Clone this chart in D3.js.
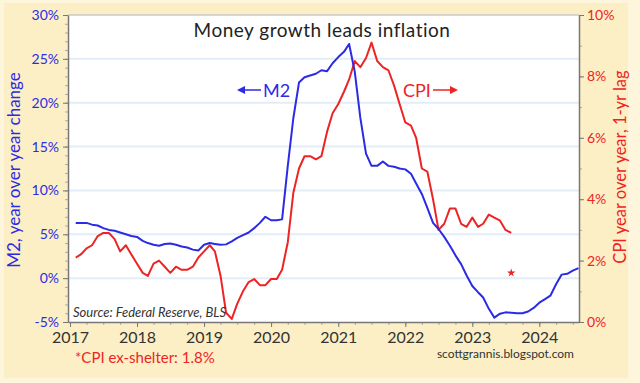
<!DOCTYPE html>
<html>
<head>
<meta charset="utf-8">
<script src="https://cdn.jsdelivr.net/npm/d3@7"></script>
<style>
  html, body { margin: 0; padding: 0; background: #fdf6dc; }
  svg { display: block; font-family: Lato, "DejaVu Sans", sans-serif; }
</style>
</head>
<body>
<svg id="chart" width="640" height="383"></svg>
<script>
// ---------- DATA ----------
// M2 year-over-year % change, monthly, Jan 2017 .. Jul 2024
const m2Start = [2017, 0];
const m2Values = [
  6.3, 6.3, 6.3, 6.1, 6.0, 5.7, 5.5, 5.4, 5.2, 5.0, 4.8, 4.7,
  4.25, 4.0, 3.8, 3.7, 3.9, 3.95, 3.8, 3.6, 3.5, 3.25, 3.15, 3.8,
  4.0, 3.9, 3.8, 3.85, 4.2, 4.6, 4.9, 5.2, 5.7, 6.3, 7.0, 6.6,
  6.6, 6.7, 12.8, 18.2, 22.3, 22.9, 23.1, 23.3, 23.7, 23.6, 24.5, 25.2,
  25.8, 26.7, 23.5, 18.3, 14.2, 12.8, 12.8, 13.3, 12.8, 12.7, 12.5, 12.4,
  11.9, 10.8, 9.6, 8.0, 6.3, 5.6, 4.7, 3.7, 2.6, 1.6, 0.3, -0.9,
  -1.6, -2.2, -3.5, -4.5, -4.05, -3.9, -3.95, -4.0, -4.0, -3.8, -3.4, -2.8,
  -2.4, -2.0, -0.7, 0.4, 0.5, 0.85, 1.15
];
// CPI year-over-year %, lagged one year (plotted Jan 2017 .. Jul 2023)
const cpiStart = [2017, 0];
const cpiLagValues = [
  2.1, 2.2, 2.4, 2.5, 2.8, 2.9, 2.9, 2.7, 2.3, 2.5, 2.2, 1.9,
  1.6, 1.5, 1.9, 2.0, 1.8, 1.6, 1.8, 1.7, 1.7, 1.8, 2.1, 2.3,
  2.5, 2.3, 1.5, 0.3, 0.1, 0.6, 1.0, 1.3, 1.4, 1.2, 1.2, 1.4,
  1.4, 1.7, 2.6, 4.2, 5.0, 5.4, 5.4, 5.3, 5.4, 6.2, 6.8, 7.1,
  7.5, 7.9, 8.5, 8.3, 8.6, 9.1, 8.5, 8.3, 8.2, 7.7, 7.1, 6.5,
  6.4, 6.0, 5.0, 4.9, 4.0, 3.0, 3.2, 3.7, 3.7, 3.2, 3.1, 3.4,
  3.1, 3.2, 3.5, 3.4, 3.3, 3.0, 2.9
];
// CPI ex-shelter marker (plotted at last CPI month)
const starMonth = [2023, 6];
const starValue = 1.6;

const leftTicks = [-5, 0, 5, 10, 15, 20, 25, 30];
const rightTicks = [0, 2, 4, 6, 8, 10];
const xDomain = [new Date(2016, 11, 21), new Date(2024, 7, 4)];

const titleText = "Money growth leads inflation";
const leftTitle = "M2, year over year change";
const rightTitle = "CPI year over year, 1-yr lag";
const m2Label = "M2";
const cpiLabel = "CPI";
const sourceText = "Source: Federal Reserve, BLS";
const footText = "*CPI ex-shelter: 1.8%";
const siteText = "scottgrannis.blogspot.com";

// ---------- LAYOUT ----------
const W = 640, H = 383;
const L = 68, R = 579, T = 15, B = 322;
const BLUE = "#2b2be6", RED = "#ee2424", GRAY = "#777";
const svg = d3.select("#chart");

// month-end plotting date
const monthDate = (start, i) => new Date(start[0], start[1] + i + 1, 1);

const m2Data = m2Values.map((v, i) => ({ date: monthDate(m2Start, i), v }));
const cpiData = cpiLagValues.map((v, i) => ({ date: monthDate(cpiStart, i), v }));

const x = d3.scaleTime().domain(xDomain).range([L, R]);
const yL = d3.scaleLinear().domain([-5, 30]).range([B, T]);
const yR = d3.scaleLinear().domain([0, 10]).range([B, T]);

// background
svg.append("rect").attr("x", 0).attr("y", 0).attr("width", W).attr("height", H).attr("fill", "#fdf6dc");
svg.append("rect").attr("x", 4).attr("y", 3).attr("width", 624).attr("height", 375).attr("fill", "#fcefc6");
svg.append("rect").attr("x", L).attr("y", T).attr("width", R - L).attr("height", B - T).attr("fill", "#ffffff");

// gridlines
svg.append("g").selectAll("line")
  .data(leftTicks.filter(d => d > -5 && d < 30))
  .join("line")
  .attr("x1", L).attr("x2", R)
  .attr("y1", d => yL(d)).attr("y2", d => yL(d))
  .attr("stroke", "#e2edf8").attr("stroke-width", 2);

// top border
svg.append("line").attr("x1", L).attr("x2", R).attr("y1", T).attr("y2", T)
  .attr("stroke", "#c8c8c8").attr("stroke-width", 1.5);

// ---------- AXES ----------
function styleAxis(g, color, size) {
  g.select(".domain").attr("stroke", GRAY).attr("stroke-width", 1.5);
  g.selectAll(".tick line").attr("stroke", GRAY);
  g.selectAll(".tick text").attr("fill", color).style("font-size", size + "px")
    .style("font-family", "Lato, sans-serif");
}

// left minor
svg.append("g").attr("transform", `translate(${L},0)`)
  .call(d3.axisLeft(yL).tickValues(d3.range(-5, 31, 1)).tickSize(3).tickFormat(""))
  .call(g => { g.select(".domain").remove(); g.selectAll(".tick line").attr("stroke", "#aaa"); });
// left major
svg.append("g").attr("transform", `translate(${L},0)`)
  .call(d3.axisLeft(yL).tickValues(leftTicks).tickSize(5).tickSizeOuter(0).tickPadding(4)
    .tickFormat(d => d + "%"))
  .call(g => styleAxis(g, BLUE, 14));

// right minor
svg.append("g").attr("transform", `translate(${R},0)`)
  .call(d3.axisRight(yR).tickValues(d3.range(0, 11, 1)).tickSize(3).tickFormat(""))
  .call(g => { g.select(".domain").remove(); g.selectAll(".tick line").attr("stroke", "#aaa"); });
// right major
svg.append("g").attr("transform", `translate(${R},0)`)
  .call(d3.axisRight(yR).tickValues(rightTicks).tickSize(5).tickSizeOuter(0).tickPadding(3)
    .tickFormat(d => d + "%"))
  .call(g => styleAxis(g, RED, 14));

// bottom minor (quarters)
svg.append("g").attr("transform", `translate(0,${B})`)
  .call(d3.axisBottom(x).ticks(d3.timeMonth.every(3)).tickSize(3).tickFormat(""))
  .call(g => { g.select(".domain").remove(); g.selectAll(".tick line").attr("stroke", "#aaa"); });
// bottom major
svg.append("g").attr("transform", `translate(0,${B})`)
  .call(d3.axisBottom(x).ticks(d3.timeYear.every(1)).tickSize(5).tickSizeOuter(0).tickPadding(5)
    .tickFormat(d3.timeFormat("%Y")))
  .call(g => styleAxis(g, "#333", 16));

// ---------- LINES ----------
const lineL = d3.line().x(d => x(d.date)).y(d => yL(d.v));
const lineR = d3.line().x(d => x(d.date)).y(d => yR(d.v));

svg.append("path").datum(cpiData).attr("d", lineR)
  .attr("fill", "none").attr("stroke", RED).attr("stroke-width", 2).attr("stroke-linejoin", "round");
svg.append("path").datum(m2Data).attr("d", lineL)
  .attr("fill", "none").attr("stroke", BLUE).attr("stroke-width", 2).attr("stroke-linejoin", "round");

// star marker
svg.append("path")
  .attr("d", d3.symbol(d3.symbolStar, 22)())
  .attr("transform", `translate(${x(monthDate(starMonth, 0))},${yR(starValue)})`)
  .attr("fill", RED);

// ---------- TEXT ----------
svg.append("text").attr("x", 322).attr("y", 37).attr("text-anchor", "middle")
  .style("font-size", "19px").style("letter-spacing", "0.5px").attr("fill", "#222").text(titleText);

// M2 arrow label
svg.append("line").attr("x1", 242).attr("x2", 261).attr("y1", 90).attr("y2", 90)
  .attr("stroke", BLUE).attr("stroke-width", 1.5);
svg.append("path").attr("d", "M237,90 L245,86 L245,94 Z").attr("fill", BLUE);
svg.append("text").attr("x", 263).attr("y", 96.5).style("font-size", "18px")
  .attr("fill", BLUE).text(m2Label);

// CPI arrow label
svg.append("text").attr("x", 403).attr("y", 96.5).style("font-size", "18px")
  .attr("fill", RED).text(cpiLabel);
svg.append("line").attr("x1", 433).attr("x2", 452).attr("y1", 90).attr("y2", 90)
  .attr("stroke", RED).attr("stroke-width", 1.5);
svg.append("path").attr("d", "M458,90 L450,86 L450,94 Z").attr("fill", RED);

// axis titles
svg.append("text").attr("transform", "translate(20,170) rotate(-90)")
  .attr("text-anchor", "middle").style("font-size", "17px").attr("fill", BLUE).text(leftTitle);
svg.append("text").attr("transform", "translate(626,167) rotate(-90)")
  .attr("text-anchor", "middle").style("font-size", "16.5px").attr("fill", RED).text(rightTitle);

// source
svg.append("text").attr("x", 73).attr("y", 317).style("font-size", "13px")
  .style("font-style", "italic").attr("fill", "#333").text(sourceText);

// footnotes
svg.append("text").attr("x", 75).attr("y", 363).style("font-size", "15px")
  .attr("fill", RED).text(footText);
svg.append("text").attr("x", 574).attr("y", 358).attr("text-anchor", "end")
  .style("font-size", "12px").attr("fill", "#333").text(siteText);
</script>
</body>
</html>
